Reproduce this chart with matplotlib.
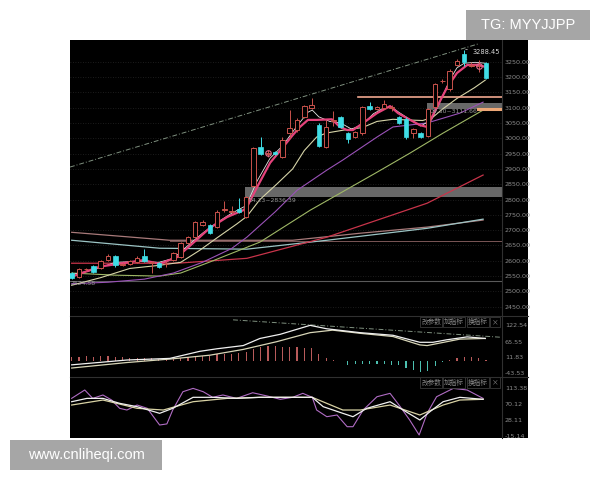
import matplotlib
matplotlib.use('Agg')
import matplotlib.pyplot as plt
from matplotlib.patches import Rectangle
from matplotlib.lines import Line2D

# ---- daily candles (58 sessions) ----
opens = [2560, 2548, 2572, 2582, 2575, 2603, 2615, 2586, 2590, 2595,
         2617, 2592, 2592, 2588, 2603, 2612, 2657, 2677, 2716, 2716,
         2710, 2765, 2760, 2770, 2743, 2845, 2972, 2950, 2955, 2939,
         3017, 3027, 3070, 3100, 3043, 2972, 3058, 3068, 3017, 3004,
         3017, 3105, 3096, 3098, 3100, 3068, 3062, 3017, 3017, 3007,
         3102, 3186, 3160, 3239, 3275, 3237, 3235, 3245]
closes = [2545, 2573, 2574, 2563, 2600, 2615, 2585, 2588, 2600, 2610,
          2600, 2597, 2580, 2590, 2625, 2658, 2677, 2726, 2726, 2690,
          2760, 2768, 2762, 2760, 2808, 2968, 2948, 2952, 2948, 2994,
          3033, 3060, 3105, 3110, 2975, 3037, 3060, 3037, 2998, 3020,
          3102, 3095, 3102, 3112, 3101, 3050, 3004, 3030, 3004, 3095,
          3177, 3188, 3220, 3252, 3250, 3239, 3236, 3196]
highs = [2565, 2578, 2578, 2585, 2603, 2622, 2618, 2592, 2604, 2614,
         2640, 2600, 2596, 2600, 2628, 2660, 2680, 2730, 2732, 2720,
         2765, 2795, 2780, 2805, 2810, 2972, 3004, 2962, 2960, 3004,
         3092, 3065, 3110, 3130, 3050, 3060, 3090, 3072, 3020, 3025,
         3105, 3118, 3106, 3125, 3108, 3072, 3068, 3034, 3020, 3100,
         3180, 3195, 3225, 3258, 3288.45, 3248, 3255, 3248]
lows = [2540, 2545, 2568, 2560, 2572, 2600, 2580, 2582, 2586, 2592,
        2597, 2560, 2577, 2580, 2600, 2610, 2655, 2675, 2712, 2686,
        2706, 2760, 2755, 2755, 2740, 2840, 2945, 2940, 2944, 2935,
        3000, 3020, 3065, 3095, 2970, 2968, 3040, 3033, 2985, 3000,
        3012, 3092, 3092, 3095, 3090, 3045, 2998, 3000, 3000, 3004,
        3100, 3180, 3155, 3235, 3235, 3232, 3215, 3192]
marked = [27, 56]

# ---- moving averages (session index, price) ----
ma5_x = [0, 3, 6, 9, 12, 14, 16, 18, 20, 22, 24, 25.5, 27.3, 29, 31, 32.5, 33.1, 34,
         35.5, 37, 38.5, 40, 41.5, 43, 44, 45, 46.5, 48, 49.5, 50.5, 52, 53, 54, 55.5, 57]
ma5_y = [2555, 2570, 2595, 2598, 2595, 2608, 2650, 2690, 2725, 2755, 2780, 2860, 2935, 2975,
         3040, 3085, 3092, 3070, 3055, 3050, 3030, 3045, 3080, 3100, 3102, 3085, 3062, 3040,
         3060, 3110, 3190, 3230, 3245, 3248, 3245]
mav_x = [0, 3.9, 9.8, 12.1, 14.5, 16.7, 19.0, 21.4, 23.6, 24.1, 25.5, 27.3, 28.7, 30.4,
         31.4, 32.5, 33.7, 35.8, 36.9, 37.9, 38.7, 40.1, 42.0, 43.8, 44.9, 46.1, 47.9, 48.9,
         50.2, 51.6, 53.0, 54.4, 55.9, 56.9]
mav_y = [2548, 2581, 2602, 2590, 2612, 2658, 2707, 2743, 2765, 2775, 2840, 2920, 2960, 3010,
         3037, 3060, 3060, 3062, 3037, 3027, 3027, 3050, 3082, 3105, 3082, 3066, 3043, 3037,
         3100, 3164, 3213, 3239, 3240, 3233]
ma10_x = [0, 4, 8, 12, 15, 17.6, 20, 22.7, 24.1, 25.9, 28.2, 30.4, 32, 33.7, 35, 37.5, 40,
          42, 44.2, 46, 48.3, 49.7, 51, 53, 55.4, 56.9]
ma10_y = [2520, 2545, 2575, 2585, 2595, 2634, 2675, 2720, 2745, 2800, 2850, 2900, 2960, 3004,
          3017, 3027, 3035, 3055, 3062, 3060, 3058, 3069, 3095, 3130, 3165, 3190]
ma20_x = [0, 5, 10, 14, 18, 22, 24.1, 28, 31, 35.1, 37.3, 42, 44.2, 48.9, 53.4, 56.6]
ma20_y = [2525, 2530, 2540, 2560, 2595, 2640, 2677, 2760, 2830, 2896, 2929, 3004, 3037, 3050,
          3082, 3118]
ma30_x = [0, 6, 12.1, 15, 19, 25.9, 32.8, 41.7, 46.5, 51.1, 56.6]
ma30_y = [2560, 2553, 2550, 2560, 2596, 2661, 2765, 2885, 2951, 3017, 3092]
ma60_x = [0, 14.5, 24.1, 35.1, 48.9, 56.6]
ma60_y = [2592, 2592, 2608, 2677, 2788, 2880]
ma120_x = [0, 12.1, 24.1, 35.1, 48.9, 56.6]
ma120_y = [2667, 2641, 2638, 2667, 2706, 2736]
ma250_x = [0, 13.5, 30.4, 39.7, 48.9, 56.6]
ma250_y = [2693, 2667, 2667, 2690, 2710, 2733]

# support / resistance marks
trend_x = [-0.23, 55.9]
trend_y = [2906, 3308]
low_line = 2535
flat_line = 2663
res_high = 3134
res_low = 3095
gap_top = (3095, 3115)
gap_mid = (2808, 2842)

# ---- MACD ----
hist = [12, 14, 16, 14, 16, 18, 14, 12, 11, 10, 10, 8, 6, 6, 7, 8, 12, 15, 18, 18,
        22, 24, 25, 26, 30, 40, 48, 52, 50, 48, 48, 46, 44, 45, 22, 10, 3, 0, -14, -12,
        -12, -10, -12, -10, -13, -15, -25, -32, -38, -36, -18, -3, 3, 9, 12, 12, 10, 3]
dif_x = [0, 7.6, 13.5, 17.6, 20, 23.6, 25.9, 28.7, 32.8, 35.1, 39.7, 44.2, 47.9, 49.7,
         51.6, 54.4, 56.9]
dif_y = [-14, 2.7, 8.3, 32.6, 41.6, 52.6, 77.2, 91.6, 122.5, 110.6, 97.2, 88.2, 63.9, 63.9,
         72.6, 82.6, 77.2]
dea_x = [0, 7.6, 13.5, 19.0, 23.6, 28.2, 32.8, 35.9, 39.7, 44.2, 47.9, 48.9, 53.4, 56.9]
dea_y = [-25, -6, 6, 19.3, 39.3, 66, 97.2, 105.9, 94.9, 83.9, 54.9, 52.6, 74.9, 77.2]
macd_trend_x = [22.2, 58.9]
macd_trend_y = [141.5, 81.6]

# ---- KDJ ----
j_x = [0, 1.8, 2.9, 4.3, 5.5, 6.6, 7.6, 9.0, 10.4, 12.1, 13.1, 13.9, 15.3, 16.7, 18.1,
       19.4, 20.8, 22.7, 24.9, 26.9, 28.7, 30.4, 31.8, 33.1, 33.7, 35.1, 36.5, 37.9, 38.7,
       40.1, 42.0, 43.8, 45.2, 46.5, 47.8, 48.9, 50.2, 52.5, 54.4, 56.6]
j_y = [85.1, 107.3, 85, 94, 80.6, 58.5, 54, 67.3, 58.5, 14.1, 17, 54, 102.7, 111.6, 102.7,
       87.8, 94, 85, 100, 91.3, 82.5, 87.8, 98.4, 87.8, 54, 36.2, 40.7, 9.6, 9.6, 54, 89.4,
       98.4, 62.9, 27.4, -12.5, 45.2, 89.4, 111.6, 107.3, 85]
k_x = [0, 2.1, 4.3, 6.6, 9.0, 12.1, 13.9, 16.7, 19.4, 22.7, 25.9, 30.4, 33.1, 34.6, 37.3,
       38.7, 40.6, 43.8, 45.6, 47.9, 49.3, 51.1, 53.4, 56.6]
k_y = [76.1, 85, 85, 71.8, 62.9, 45.2, 58.5, 87.8, 87.8, 85, 87.8, 87.8, 87.8, 62.9, 45.2,
       36.2, 58.5, 76.1, 54, 27.4, 49.8, 76.1, 87.8, 82.5]
d_x = [0, 4.3, 9.0, 12.6, 16.7, 21.4, 25.9, 33.1, 37.3, 39.7, 43.8, 47.9, 51.1, 53.4, 56.6]
d_y = [67.3, 80.6, 58.5, 54, 76.1, 85, 87.8, 87.8, 54, 54, 67.3, 40.7, 67.3, 80.6, 82.5]

price_ticks = [3250, 3200, 3150, 3100, 3050, 3000, 2950, 2900, 2850, 2800, 2750,
               2700, 2650, 2600, 2550, 2500, 2450]
macd_ticks = [122.54, 65.55, 11.83, -43.53]
kdj_ticks = [113.38, 70.12, 28.11, -15.14]

UP = '#c9524c'
DOWN = '#3fdde6'
GRID = '#262626'
LABEL = '#8c8c8c'
CJK = ['Noto Sans CJK SC', 'DejaVu Sans']

fig = plt.figure(figsize=(6, 4.8), dpi=100, facecolor='white')
W, H = 600.0, 480.0

bg = fig.add_axes([70 / W, 1 - 438 / H, 458 / W, 398 / H])
bg.set_facecolor('black')
bg.set_xticks([])
bg.set_yticks([])
for s in bg.spines.values():
    s.set_visible(False)

left, width = 70 / W, 432 / W
ax_p = fig.add_axes([left, 1 - 316 / H, width, 276 / H])
ax_m = fig.add_axes([left, 1 - 377 / H, width, 61 / H])
ax_k = fig.add_axes([left, 1 - 438 / H, width, 61 / H])

n = len(closes)
for ax in (ax_p, ax_m, ax_k):
    ax.set_facecolor('none')
    ax.set_xlim(-0.23, 59.2)
    ax.set_xticks([])
    ax.yaxis.tick_right()
    ax.tick_params(axis='y', length=0, pad=2, labelsize=4.6, labelcolor=LABEL)
    for side in ('top', 'left', 'bottom'):
        ax.spines[side].set_visible(False)
    ax.spines['right'].set_color('#303030')
    ax.spines['right'].set_linewidth(0.8)

# ---- price panel ----
ax_p.set_ylim(2419.7, 3320.9)
ax_p.set_yticks(price_ticks)
ax_p.set_yticklabels(['%.2f' % v for v in price_ticks])
for v in price_ticks:
    ax_p.axhline(v, color=GRID, lw=0.6, ls=(0, (1, 2)), zorder=0)

ax_p.axhspan(gap_mid[0], gap_mid[1], xmin=(23.8 + 0.23) / 59.43, xmax=1,
             color='#747474', alpha=0.9, lw=0, zorder=1)
ax_p.axhspan(gap_top[0], gap_top[1], xmin=(48.9 + 0.23) / 59.43, xmax=1,
             color='#747474', alpha=0.9, lw=0, zorder=1)
ax_p.axhline(low_line, color='#5a5a5a', lw=0.8, zorder=1)
ax_p.plot([13.5, 59.2], [flat_line, flat_line], color='#7a5656', lw=0.7, zorder=1)
ax_p.plot(trend_x, trend_y, color='#7f907f', lw=0.7, ls=(0, (5, 2, 1, 2)), zorder=2)
ax_p.plot([39.4, 59.2], [res_high, res_high], color='#f0a890', lw=1.2, zorder=3)
ax_p.plot([55.9, 59.2], [res_low, res_low], color='#eda777', lw=2.2, zorder=3)

ax_p.plot(ma250_x, ma250_y, color='#a87a7a', lw=0.9, zorder=2)
ax_p.plot(ma120_x, ma120_y, color='#9cc4c4', lw=0.9, zorder=2)
ax_p.plot(ma60_x, ma60_y, color='#c8344a', lw=0.9, zorder=2)
ax_p.plot(ma30_x, ma30_y, color='#9fb866', lw=0.8, zorder=2)
ax_p.plot(ma20_x, ma20_y, color='#9a52b8', lw=0.8, zorder=2)
ax_p.plot(ma10_x, ma10_y, color='#d6d4a8', lw=0.8, zorder=2)
ax_p.plot(ma5_x, ma5_y, color='#e6e6e6', lw=0.6, zorder=4)
ax_p.plot(mav_x, mav_y, color='#e5437c', lw=1.6, zorder=4)

idx = list(range(n))
up_i = [i for i in idx if closes[i] >= opens[i]]
dn_i = [i for i in idx if closes[i] < opens[i]]
ax_p.vlines(up_i, [lows[i] for i in up_i], [highs[i] for i in up_i], color=UP, lw=0.7, zorder=5)
ax_p.vlines(dn_i, [lows[i] for i in dn_i], [highs[i] for i in dn_i], color=DOWN, lw=0.7, zorder=5)
ax_p.bar(up_i, [max(closes[i] - opens[i], 1.5) for i in up_i], bottom=[opens[i] for i in up_i],
         width=0.62, facecolor='black', edgecolor=UP, lw=0.7, zorder=6)
ax_p.bar(dn_i, [opens[i] - closes[i] for i in dn_i], bottom=[closes[i] for i in dn_i],
         width=0.62, facecolor=DOWN, edgecolor=DOWN, lw=0.5, zorder=6)
ax_p.plot(marked, [closes[i] for i in marked], 'o', ms=4, mfc='none', mec='#e06a8e',
          mew=0.8, zorder=7)

ax_p.annotate('3288.45', xy=(54.2, 3290), xytext=(55.2, 3281), color='#d8d8d8',
              fontsize=4.8, va='center', zorder=8,
              arrowprops=dict(arrowstyle='-', color='#d8d8d8', lw=0.5))
ax_p.text(24.4, 2798, '04.23~2836.39', color='#9a9a9a', fontsize=4.4, va='center', zorder=8)
ax_p.text(49.3, 3087, '09.30~3111.66', color='#9a9a9a', fontsize=4.4, va='center', zorder=8)
ax_p.text(-0.1, 2527, '2524.58', color='#9a9a9a', fontsize=4.4, va='center', zorder=8)

# ---- MACD panel ----
ax_m.set_ylim(-56, 154.8)
ax_m.set_yticks(macd_ticks)
ax_m.set_yticklabels(['%.2f' % v for v in macd_ticks])
ax_m.bar(idx, hist, width=0.16, color=['#b85a5a' if h >= 0 else '#4cc0b0' for h in hist],
         lw=0, zorder=2)
ax_m.plot(macd_trend_x, macd_trend_y, color='#7f907f', lw=0.7, ls=(0, (5, 2, 1, 2)), zorder=3)
ax_m.plot(dea_x, dea_y, color='#d8d6b8', lw=0.9, zorder=4)
ax_m.plot(dif_x, dif_y, color='#f0f0f0', lw=0.9, zorder=4)

# ---- KDJ panel ----
ax_k.set_ylim(-20.5, 141.9)
ax_k.set_yticks(kdj_ticks)
ax_k.set_yticklabels(['%.2f' % v for v in kdj_ticks])
ax_k.plot(j_x, j_y, color='#b06cc4', lw=0.8, zorder=3)
ax_k.plot(d_x, d_y, color='#d8d2a4', lw=0.9, zorder=4)
ax_k.plot(k_x, k_y, color='#f0f0f0', lw=0.9, zorder=4)

# buttons on the indicator panels
for ax, yb in ((ax_m, 0.90), (ax_k, 0.907)):
    for xb, lab in ((0.836, '改参数'), (0.889, '加指标'), (0.944, '换指标'), (0.984, '×')):
        ax.text(xb, yb, lab, transform=ax.transAxes, ha='center', va='center',
                fontsize=4.8, color='#8a8a8a', family=CJK, zorder=9,
                bbox=dict(boxstyle='square,pad=0.2', fc='black', ec='#444444', lw=0.5))

# panel separators across the whole dark area
for yy in (316, 377):
    fig.add_artist(Line2D([70 / W, 528 / W], [1 - yy / H, 1 - yy / H],
                          transform=fig.transFigure, color='#303030', lw=0.8))

# watermark boxes
fig.patches.append(Rectangle((466 / W, 1 - 40 / H), 124 / W, 30 / H,
                             transform=fig.transFigure, facecolor='#a6a6a6', edgecolor='none'))
fig.text(528 / W, 1 - 25 / H, 'TG: MYYJJPP', color='white', fontsize=10.5,
         family='Liberation Sans', ha='center', va='center')
fig.patches.append(Rectangle((10 / W, 1 - 470 / H), 152 / W, 30 / H,
                             transform=fig.transFigure, facecolor='#a6a6a6', edgecolor='none'))
fig.text(86 / W, 1 - 455 / H, 'www.cnliheqi.com', color='white', fontsize=10.5,
         family='Liberation Sans', ha='center', va='center')

fig.savefig('out.png', dpi=100, facecolor='white')
